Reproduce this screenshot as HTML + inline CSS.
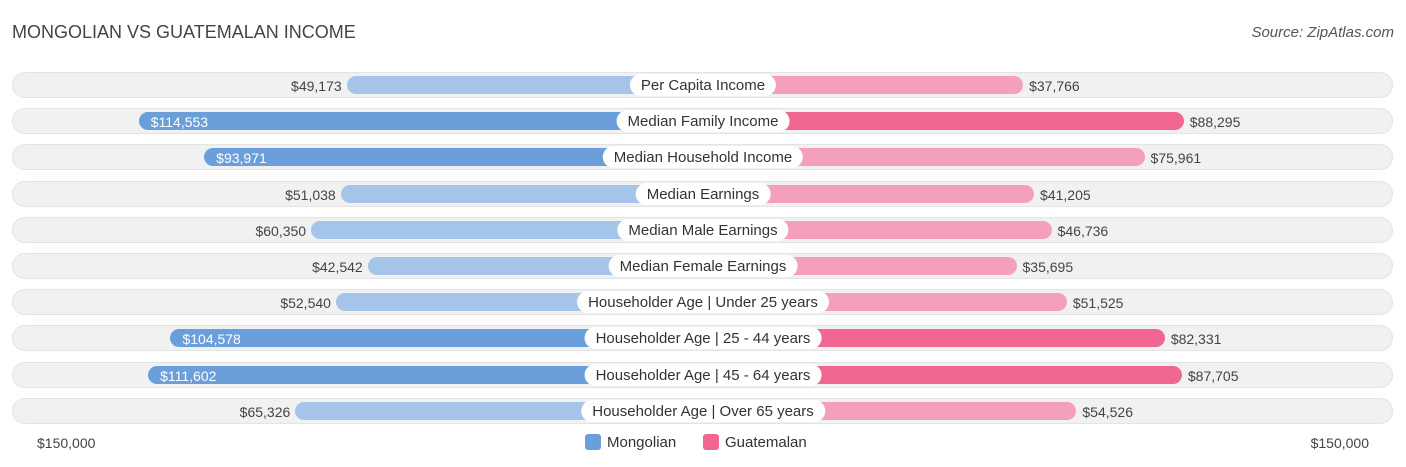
<!DOCTYPE html>
<html><head><meta charset="utf-8"><style>
body{margin:0;width:1406px;height:467px;background:#fff;font-family:"Liberation Sans",sans-serif;overflow:hidden;position:relative}
.t{position:absolute;white-space:nowrap}
</style></head><body>
<div class="t" style="left:12px;top:22px;font-size:18px;color:#444">MONGOLIAN VS GUATEMALAN INCOME</div>
<div class="t" style="right:12px;top:24px;font-size:15px;color:#555;font-style:italic">Source: ZipAtlas.com</div>
<div id="rows"></div>
<div class="t" style="left:37px;top:435px;font-size:14px;color:#444">$150,000</div>
<div class="t" style="right:37px;top:435px;font-size:14px;color:#444">$150,000</div>
<div class="t" style="left:585px;top:434px;font-size:15px;color:#333"><span style="display:inline-block;width:16px;height:16px;background:#6a9fdc;border-radius:3px;vertical-align:-3px;margin-right:6px"></span>Mongolian</div>
<div class="t" style="left:703px;top:434px;font-size:15px;color:#333"><span style="display:inline-block;width:16px;height:16px;background:#f06892;border-radius:3px;vertical-align:-3px;margin-right:6px"></span>Guatemalan</div>
<script>
const categories=["Per Capita Income","Median Family Income","Median Household Income","Median Earnings","Median Male Earnings","Median Female Earnings","Householder Age | Under 25 years","Householder Age | 25 - 44 years","Householder Age | 45 - 64 years","Householder Age | Over 65 years"];
const mongolian=[49173,114553,93971,51038,60350,42542,52540,104578,111602,65326];
const guatemalan=[37766,88295,75961,41205,46736,35695,51525,82331,87705,54526];
const cx=703;
function w(v){return 200+0.00318*v;}
function fmt(v){return "$"+v.toLocaleString("en-US");}
const root=document.getElementById("rows");
categories.forEach((c,i)=>{
  const y=85+i*36.2;
  const row=document.createElement("div");
  
  
  row.style.cssText=`position:absolute;left:12px;width:1381px;top:${y-13}px;height:26px;border-radius:13px;background:#f1f1f1;box-shadow:inset 0 0 0 1px #e4e4e4`;
  root.appendChild(row);
  const m=mongolian[i],g=guatemalan[i];
  const mw=w(m),gw=w(g);
  const mStrong=m>80000,gStrong=g>80000;
  const bm=document.createElement("div");
  
  
  bm.style.cssText=`position:absolute;left:${cx-mw}px;width:${mw}px;top:${y-9}px;height:18px;border-radius:9px;background:${mStrong?'#6a9fdc':'#a4c4ea'}`;
  root.appendChild(bm);
  const bg=document.createElement("div");
  
  
  bg.style.cssText=`position:absolute;left:${cx}px;width:${gw}px;top:${y-9}px;height:18px;border-radius:9px;background:${gStrong?'#f06892':'#f5a0bb'}`;
  root.appendChild(bg);
  const lm=document.createElement("div");
  
  
  lm.className="t";lm.textContent=fmt(m);
  if(mStrong){lm.style.cssText=`left:${cx-mw+12}px;top:${y-8}px;font-size:14px;color:#fff;line-height:18px`;}
  else{lm.style.cssText=`right:${1406-(cx-mw)+5}px;top:${y-8}px;font-size:14px;color:#444;line-height:18px`;}
  root.appendChild(lm);
  const lg=document.createElement("div");
  
  
  lg.className="t";lg.textContent=fmt(g);
  lg.style.cssText=`left:${cx+gw+6}px;top:${y-8}px;font-size:14px;color:#444;line-height:18px`;
  root.appendChild(lg);
  const cl=document.createElement("div");
  
  
  cl.className="t";cl.textContent=c;
  cl.style.cssText=`left:${cx}px;transform:translateX(-50%);top:${y-11}px;height:22px;line-height:23px;padding:0 11px;border-radius:11px;background:#fff;font-size:15px;color:#333`;
  root.appendChild(cl);
});
</script>
</body></html>
